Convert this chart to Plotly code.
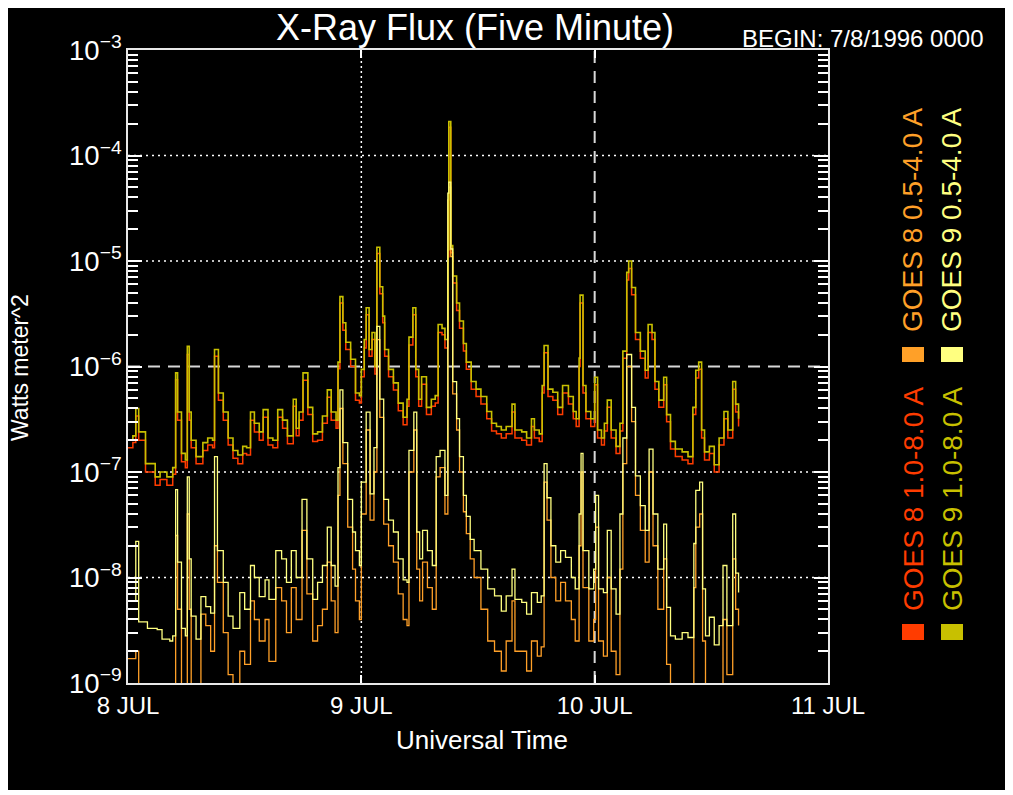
import plotly.graph_objects as go

# ---------------- data ----------------
# hours since 8 Jul 1996 00:00 UT
t_long = [0, 0.5, 0.8, 1.1, 1.8, 2.8, 3.3, 4.0, 4.6, 4.9, 5.1, 5.5, 5.9, 6.1, 6.3, 6.5, 7.0, 7.7, 8.2, 8.7,
          8.9, 9.3, 9.8, 10.3, 10.8, 11.3, 11.8, 12.2, 12.6, 13.0, 13.5, 13.9, 14.4, 14.9, 15.4, 15.9, 16.4,
          17.0, 17.3, 17.6, 18.0, 18.5, 19.0, 19.5, 20.0, 20.5, 20.9, 21.4, 21.6, 21.8, 22.1, 22.4, 22.9,
          23.4, 23.8, 24.0, 24.3, 24.5, 24.8, 25.1, 25.4, 25.6, 25.9, 26.2, 26.4, 26.8, 27.3, 27.8, 28.3,
          28.7, 28.9, 29.3, 29.6, 29.9, 30.2, 30.7, 31.2, 31.6, 31.9, 32.3, 32.6, 32.9, 33.0, 33.2, 33.4,
          33.8, 34.1, 34.5, 34.8, 35.3, 35.8, 36.3, 36.9, 37.4, 37.9, 38.4, 38.9, 39.5, 39.8, 40.5, 41.0,
          41.5, 41.8, 42.3, 42.6, 42.8, 43.2, 43.7, 44.2, 44.7, 45.3, 45.8, 46.1, 46.4, 46.5, 46.8, 47.1,
          47.6, 48.0, 48.3, 48.7, 49.0, 49.3, 49.7, 50.2, 50.6, 50.9, 51.3, 51.5, 51.8, 52.2, 52.7, 53.2,
          53.5, 53.9, 54.2, 54.6, 55.1, 55.4, 55.8, 56.3, 57.0, 57.6, 58.1, 58.4, 58.7, 59.0, 59.3, 59.8,
          60.3, 60.8, 61.3, 61.7, 62.2, 62.5, 62.8]

# long channel (1.0-8.0 A), W m^-2
goes9_long = [2.0e-7, 2.2e-7, 4.0e-7, 2.4e-7, 1.2e-7, 9.0e-8, 1.0e-7, 9.0e-8, 1.1e-7, 8.7e-7, 3.7e-7, 1.5e-7,
              1.3e-7, 1.55e-6, 3.7e-7, 2.0e-7, 1.4e-7, 1.9e-7, 2.1e-7, 2.0e-7, 1.45e-6, 5.6e-7, 3.7e-7,
              2.1e-7, 1.6e-7, 1.45e-7, 1.75e-7, 1.7e-7, 3.7e-7, 2.9e-7, 2.4e-7, 3.9e-7, 2.1e-7, 2.0e-7,
              3.9e-7, 3.1e-7, 2.2e-7, 4.9e-7, 2.6e-7, 3.7e-7, 8.7e-7, 4.1e-7, 2.3e-7, 2.4e-7, 3.4e-7,
              6.0e-7, 3.7e-7, 3.1e-7, 1.1e-6, 4.6e-6, 2.6e-6, 1.7e-6, 1.17e-6, 5.6e-7, 5.3e-7, 9.4e-7,
              1.8e-6, 3.6e-6, 1.45e-6, 2.1e-6, 1.0e-6, 1.35e-5, 5.7e-6, 3.0e-6, 1.45e-6, 9.4e-7, 7.0e-7,
              4.5e-7, 3.3e-7, 4.9e-7, 1.9e-6, 3.6e-6, 9.4e-7, 4.9e-7, 8.0e-7, 4.1e-7, 4.9e-7, 5.3e-7,
              2.5e-6, 2.3e-6, 1.8e-6, 1.28e-5, 2.1e-4, 1.4e-5, 7.2e-6, 4.0e-6, 2.7e-6, 1.65e-6, 1.1e-6,
              7.2e-7, 6.1e-7, 5.2e-7, 3.75e-7, 2.9e-7, 2.7e-7, 2.5e-7, 2.7e-7, 4.4e-7, 2.5e-7, 2.4e-7,
              2.1e-7, 3.2e-7, 2.5e-7, 2.3e-7, 6.6e-7, 1.58e-6, 6.1e-7, 5.7e-7, 4.1e-7, 6.6e-7, 5.2e-7,
              3.75e-7, 3.2e-7, 1.2e-6, 4.75e-6, 6.6e-7, 3.75e-7, 3.2e-7, 7.9e-7, 2.5e-7, 2.1e-7, 2.9e-7,
              4.8e-7, 2.5e-7, 1.75e-7, 2.9e-7, 1.4e-6, 7.8e-6, 1.0e-5, 5.6e-6, 2.1e-6, 1.4e-6, 9.2e-7,
              2.5e-6, 2.1e-6, 7.2e-7, 4.8e-7, 7.9e-7, 3.5e-7, 1.95e-7, 1.65e-7, 1.55e-7, 1.4e-7, 4.1e-7,
              9.2e-7, 1.1e-6, 2.5e-7, 1.55e-7, 1.75e-7, 1.17e-7, 2.1e-7, 3.75e-7, 2.5e-7, 7.2e-7, 4.4e-7,
              3.2e-7]

goes8_long = [1.7e-7, 1.9e-7, 3.4e-7, 2.0e-7, 1.0e-7, 7.5e-8, 8.5e-8, 7.5e-8, 9.5e-8, 7.5e-7, 3.1e-7, 1.25e-7,
              1.1e-7, 1.3e-6, 3.1e-7, 1.7e-7, 1.2e-7, 1.6e-7, 1.8e-7, 1.7e-7, 1.25e-6, 4.8e-7, 3.1e-7,
              1.8e-7, 1.35e-7, 1.2e-7, 1.5e-7, 1.45e-7, 3.1e-7, 2.4e-7, 2.0e-7, 3.3e-7, 1.8e-7, 1.7e-7,
              3.3e-7, 2.6e-7, 1.85e-7, 4.2e-7, 2.2e-7, 3.1e-7, 7.4e-7, 3.5e-7, 1.95e-7, 2.0e-7, 2.9e-7,
              5.1e-7, 3.1e-7, 2.6e-7, 9.5e-7, 4.0e-6, 2.2e-6, 1.45e-6, 1.0e-6, 4.8e-7, 4.5e-7, 8.0e-7,
              1.5e-6, 3.1e-6, 1.25e-6, 1.8e-6, 8.5e-7, 1.18e-5, 4.9e-6, 2.6e-6, 1.25e-6, 8.0e-7, 6.0e-7,
              3.8e-7, 2.8e-7, 4.2e-7, 1.6e-6, 3.1e-6, 8.0e-7, 4.2e-7, 6.8e-7, 3.5e-7, 4.2e-7, 4.5e-7,
              2.1e-6, 2.0e-6, 1.5e-6, 1.1e-5, 1.85e-4, 1.2e-5, 6.2e-6, 3.4e-6, 2.3e-6, 1.4e-6, 9.4e-7,
              6.1e-7, 5.2e-7, 4.4e-7, 3.2e-7, 2.45e-7, 2.3e-7, 2.1e-7, 2.3e-7, 3.7e-7, 2.1e-7, 2.0e-7,
              1.8e-7, 2.7e-7, 2.1e-7, 1.95e-7, 5.6e-7, 1.35e-6, 5.2e-7, 4.8e-7, 3.5e-7, 5.6e-7, 4.4e-7,
              3.2e-7, 2.7e-7, 1.0e-6, 4.0e-6, 5.6e-7, 3.2e-7, 2.7e-7, 6.7e-7, 2.1e-7, 1.8e-7, 2.45e-7,
              4.1e-7, 2.1e-7, 1.5e-7, 2.45e-7, 1.2e-6, 6.6e-6, 8.5e-6, 4.8e-6, 1.8e-6, 1.2e-6, 7.8e-7,
              2.1e-6, 1.8e-6, 6.1e-7, 4.1e-7, 6.7e-7, 3.0e-7, 1.65e-7, 1.4e-7, 1.3e-7, 1.2e-7, 3.5e-7,
              7.8e-7, 9.4e-7, 2.1e-7, 1.3e-7, 1.5e-7, 1.0e-7, 1.8e-7, 3.2e-7, 2.1e-7, 6.1e-7, 3.7e-7,
              2.7e-7]

t_short = [0, 0.8, 1.1, 2.0, 3.0, 3.5, 4.3, 4.6, 4.9, 5.1, 5.5, 5.9, 6.1, 6.3, 6.5, 7.0, 7.5, 8.0, 8.5, 8.9,
           9.2, 9.8, 10.3, 10.8, 11.5, 12.0, 12.6, 13.0, 13.5, 14.1, 14.5, 15.2, 15.8, 16.3, 16.8, 17.3, 17.9,
           18.4, 19.0, 19.5, 20.0, 20.5, 20.9, 21.3, 21.6, 21.8, 22.1, 22.6, 23.1, 23.4, 23.8, 24.0, 24.5,
           24.9, 25.3, 25.6, 25.9, 26.3, 26.8, 27.3, 27.8, 28.3, 28.7, 28.9, 29.4, 29.7, 30.0, 30.3, 30.8,
           31.3, 31.7, 32.1, 32.6, 32.9, 33.0, 33.2, 33.4, 33.8, 34.1, 34.5, 34.8, 35.2, 35.6, 36.3, 37.0,
           37.7, 38.4, 38.9, 39.5, 39.8, 40.5, 41.0, 41.5, 42.1, 42.5, 42.8, 43.1, 43.5, 44.0, 44.5, 45.0,
           45.6, 46.0, 46.4, 46.6, 46.8, 47.4, 47.9, 48.1, 48.4, 48.9, 49.3, 49.7, 50.2, 50.6, 50.9, 51.3,
           51.5, 51.8, 52.2, 52.7, 53.2, 53.6, 54.0, 54.5, 55.1, 55.4, 55.8, 56.3, 57.0, 57.6, 58.2, 58.4,
           58.8, 59.1, 59.4, 59.8, 60.3, 60.8, 61.2, 61.6, 62.2, 62.5, 62.8]

# short channel (0.5-4.0 A), W m^-2
goes9_short = [6.0e-9, 2.2e-8, 3.8e-9, 3.3e-9, 3.2e-9, 2.6e-9, 2.5e-9, 2.8e-9, 6.8e-8, 1.4e-8, 3.3e-9, 2.8e-9,
               9.0e-8, 1.5e-8, 4.3e-9, 2.6e-9, 6.6e-9, 5.3e-9, 4.6e-9, 1.4e-7, 1.8e-8, 9.0e-9, 4.3e-9,
               3.3e-9, 7.2e-9, 5.0e-9, 1.3e-8, 1.0e-8, 6.6e-9, 9.5e-9, 6.2e-9, 1.8e-8, 1.5e-8, 9.0e-9,
               1.8e-8, 1.0e-8, 5.5e-8, 1.5e-8, 6.2e-9, 9.0e-9, 1.3e-8, 3.0e-8, 1.3e-8, 8.3e-9, 1.1e-7,
               6.0e-7, 1.9e-7, 5.5e-8, 2.7e-8, 1.8e-8, 1.3e-8, 8.0e-8, 3.7e-7, 6.2e-8, 1.7e-7, 2.4e-6,
               4.9e-7, 5.5e-8, 3.5e-8, 2.7e-8, 1.5e-8, 9.5e-9, 9.0e-9, 1.6e-7, 3.7e-7, 2.7e-8, 1.5e-8,
               2.8e-8, 1.8e-8, 1.3e-8, 1.4e-7, 1.6e-7, 6.0e-8, 4.4e-5, 5.6e-5, 1.3e-5, 7.2e-7, 3.2e-7,
               1.4e-7, 6.0e-8, 3.8e-8, 2.3e-8, 1.8e-8, 1.2e-8, 7.8e-9, 6.7e-9, 4.8e-9, 6.7e-9, 1.2e-8,
               6.2e-9, 5.8e-9, 4.5e-9, 7.2e-9, 5.8e-9, 6.7e-9, 1.2e-7, 5.7e-8, 2.0e-8, 1.4e-8, 1.8e-8,
               1.55e-8, 1.0e-8, 7.8e-9, 4.0e-8, 1.5e-7, 1.8e-8, 7.8e-9, 1.2e-8, 6.0e-8, 7.8e-9, 7.2e-9,
               2.8e-8, 7.8e-9, 4.5e-9, 4.0e-8, 2.1e-7, 1.3e-6, 1.3e-6, 4.1e-7, 9.2e-8, 4.8e-8, 2.8e-8,
               1.65e-7, 4.0e-8, 1.2e-8, 3.2e-8, 5.2e-9, 2.8e-9, 2.6e-9, 3.0e-9, 2.7e-9, 2.1e-8, 6.7e-8,
               8.0e-8, 7.8e-9, 2.8e-9, 4.2e-9, 2.3e-9, 3.5e-9, 1.3e-8, 3.5e-9, 4.0e-8, 1.1e-8, 7.2e-9]

goes8_short = [1.7e-9, 2.0e-9, 6.0e-10, 6.0e-10, 6.0e-10, 6.0e-10, 6.0e-10, 6.0e-10, 2.5e-8, 5.0e-9, 6.0e-10,
               6.0e-10, 4.0e-8, 5.0e-9, 6.0e-10, 6.0e-10, 4.5e-9, 3.5e-9, 2.0e-9, 2.0e-8, 9.0e-9, 3.0e-9,
               1.2e-9, 8.0e-10, 2.0e-9, 1.5e-9, 6.0e-9, 4.0e-9, 2.5e-9, 4.0e-9, 1.6e-9, 8.0e-9, 6.0e-9,
               3.0e-9, 8.0e-9, 4.0e-9, 2.8e-8, 7.0e-9, 2.5e-9, 3.5e-9, 5.0e-9, 1.4e-8, 6.0e-9, 3.0e-9,
               6.0e-8, 4.0e-7, 1.2e-7, 3.0e-8, 1.2e-8, 6.0e-9, 4.0e-9, 4.0e-8, 2.5e-7, 3.5e-8, 1.0e-7,
               1.8e-6, 3.3e-7, 3.2e-8, 2.0e-8, 1.4e-8, 7.0e-9, 4.0e-9, 3.5e-9, 1.0e-7, 2.5e-7, 1.2e-8,
               6.0e-9, 1.4e-8, 8.0e-9, 5.0e-9, 9.0e-8, 1.1e-7, 4.0e-8, 3.8e-5, 5.0e-5, 1.1e-5, 5.5e-7,
               2.5e-7, 1.0e-7, 4.2e-8, 2.6e-8, 1.5e-8, 1.0e-8, 5.0e-9, 2.5e-9, 2.0e-9, 1.3e-9, 2.5e-9,
               6.0e-9, 2.0e-9, 2.0e-9, 1.3e-9, 2.5e-9, 1.8e-9, 2.2e-9, 8.0e-8, 3.5e-8, 1.0e-8, 6.0e-9,
               9.0e-9, 6.0e-9, 4.0e-9, 2.5e-9, 2.0e-8, 1.0e-7, 8.0e-9, 2.5e-9, 4.0e-9, 3.0e-8, 2.5e-9,
               1.8e-9, 1.0e-8, 2.0e-9, 1.2e-9, 1.2e-8, 1.2e-7, 1.0e-6, 1.0e-6, 3.0e-7, 6.0e-8, 2.8e-8,
               1.4e-8, 1.0e-7, 2.0e-8, 5.0e-9, 1.5e-8, 1.5e-9, 6.0e-10, 8.0e-10, 6.0e-10, 9.0e-10, 8.0e-9,
               3.0e-8, 4.0e-8, 2.5e-9, 6.0e-10, 6.0e-10, 6.0e-10, 7.0e-10, 4.0e-9, 1.2e-9, 1.5e-8, 5.0e-9,
               3.5e-9]

day_ticks = [0, 24, 48, 72]
day_labels = ["8 JUL", "9 JUL", "10 JUL", "11 JUL"]
flare_levels = [1e-8, 1e-7, 1e-6, 1e-5, 1e-4]
flare_classes = ["A", "B", "C", "M", "X"]

series_names = ["GOES 8 1.0-8.0 A", "GOES 8 0.5-4.0 A", "GOES 9 1.0-8.0 A", "GOES 9 0.5-4.0 A"]

# ---------------- styling ----------------
C_G8L = "#FF3C00"
C_G8S = "#FFA028"
C_G9L = "#C8C000"
C_G9S = "#FFFF80"
FONT = "Liberation Sans"
OFF = 8                       # page body margin of the html page
W, H = 1013 - OFF, 795 - OFF
L, R, T, B = 128, 828, 50, 683  # plot box in screen pixels


def px(x):
    return (x - L) / (R - L)


def py(y):
    return (B - y) / (B - T)


fig = go.Figure()
for xs, ys, col, name, w in [
    (t_long, goes8_long, C_G8L, series_names[0], 1.5),
    (t_short, goes8_short, C_G8S, series_names[1], 1.3),
    (t_long, goes9_long, C_G9L, series_names[2], 1.6),
    (t_short, goes9_short, C_G9S, series_names[3], 1.3),
]:
    fig.add_trace(go.Scatter(x=xs, y=ys, mode="lines", name=name,
                             line=dict(color=col, width=w, shape="hv"),
                             showlegend=False))

shapes = []
# black panel inside white frame
shapes.append(dict(type="rect", xref="paper", yref="paper", x0=px(0), x1=px(1008), y0=py(790), y1=py(0),
                   fillcolor="black", line=dict(width=0), layer="below"))
# flare class grid lines
for lv in flare_levels:
    if lv == 1e-6:
        shapes.append(dict(type="line", xref="paper", yref="y", x0=0, x1=1, y0=lv, y1=lv,
                           line=dict(color="#d8d8d8", width=2, dash="12px,8px"), layer="below"))
    else:
        shapes.append(dict(type="line", xref="paper", yref="y", x0=0, x1=1, y0=lv, y1=lv,
                           line=dict(color="white", width=1.5, dash="2px,4px"), layer="below"))
# day lines
shapes.append(dict(type="line", xref="x", yref="paper", x0=day_ticks[1], x1=day_ticks[1], y0=0, y1=1,
                   line=dict(color="white", width=1.5, dash="2px,3px"), layer="below"))
shapes.append(dict(type="line", xref="x", yref="paper", x0=day_ticks[2], x1=day_ticks[2], y0=0, y1=1,
                   line=dict(color="#d8d8d8", width=2, dash="12px,8px"), layer="below"))

# legend swatches
sw = [(902, 924, 624, 640, C_G8L), (902, 924, 347, 362, C_G8S),
      (941, 963, 624, 640, C_G9L), (941, 963, 347, 362, C_G9S)]
for x0, x1, y0, y1, c in sw:
    shapes.append(dict(type="rect", xref="paper", yref="paper", x0=px(x0), x1=px(x1), y0=py(y1), y1=py(y0),
                       fillcolor=c, line=dict(width=0)))

ann = []
ann.append(dict(text="X-Ray Flux (Five Minute)", x=px(475), y=py(28), xref="paper", yref="paper",
                showarrow=False, font=dict(family=FONT, size=36, color="white"), xanchor="center", yanchor="middle"))
ann.append(dict(text="BEGIN: 7/8/1996 0000", x=px(986), y=py(38), xref="paper", yref="paper",
                showarrow=False, font=dict(family=FONT, size=24, color="white"), xanchor="right", yanchor="middle"))
ann.append(dict(text="Watts meter^2", x=px(20), y=py(368), xref="paper", yref="paper", textangle=-90,
                showarrow=False, font=dict(family=FONT, size=23, color="white"), xanchor="center", yanchor="middle"))
ann.append(dict(text="Universal Time", x=px(482), y=py(740), xref="paper", yref="paper",
                showarrow=False, font=dict(family=FONT, size=26, color="white"), xanchor="center", yanchor="middle"))
for lv, cl in zip(flare_levels, flare_classes):
    ann.append(dict(text=cl, x=px(848), y=lv, xref="paper", yref="y", showarrow=False,
                    font=dict(family=FONT, size=21, color="white"), xanchor="center", yanchor="middle"))
leg_txt = [(913, 499, series_names[0], C_G8L), (913, 220, series_names[1], C_G8S),
           (952, 499, series_names[2], C_G9L), (952, 220, series_names[3], C_G9S)]
for x, y, s, c in leg_txt:
    ann.append(dict(text=s, x=px(x), y=py(y), xref="paper", yref="paper", textangle=-90, showarrow=False,
                    font=dict(family=FONT, size=28, color=c), xanchor="center", yanchor="middle"))

fig.update_layout(
    width=W, height=H,
    margin=dict(l=L - OFF, r=W - (R - OFF), t=T - OFF, b=H - (B - OFF), pad=0),
    paper_bgcolor="white", plot_bgcolor="black",
    shapes=shapes, annotations=ann,
    font=dict(family=FONT, color="white"),
    xaxis=dict(range=[0, 72], tickmode="array", tickvals=day_ticks, ticktext=day_labels,
               ticks="inside", ticklen=8, tickcolor="white", tickwidth=1.5,
               showline=True, linecolor="#e8e8e8", linewidth=2, mirror="ticks",
               showgrid=False, zeroline=False, tickfont=dict(family=FONT, size=24, color="white")),
    yaxis=dict(type="log", range=[-9, -3], dtick=1, exponentformat="power", showexponent="all",
               ticks="inside", ticklen=14, tickcolor="white", tickwidth=1.5,
               minor=dict(ticks="inside", ticklen=10, tickcolor="white", dtick="D1", showgrid=False),
               showline=True, linecolor="#e8e8e8", linewidth=2, mirror="ticks",
               showgrid=False, zeroline=False, tickfont=dict(family=FONT, size=22, color="white")),
)

fig.write_html("out.html")
